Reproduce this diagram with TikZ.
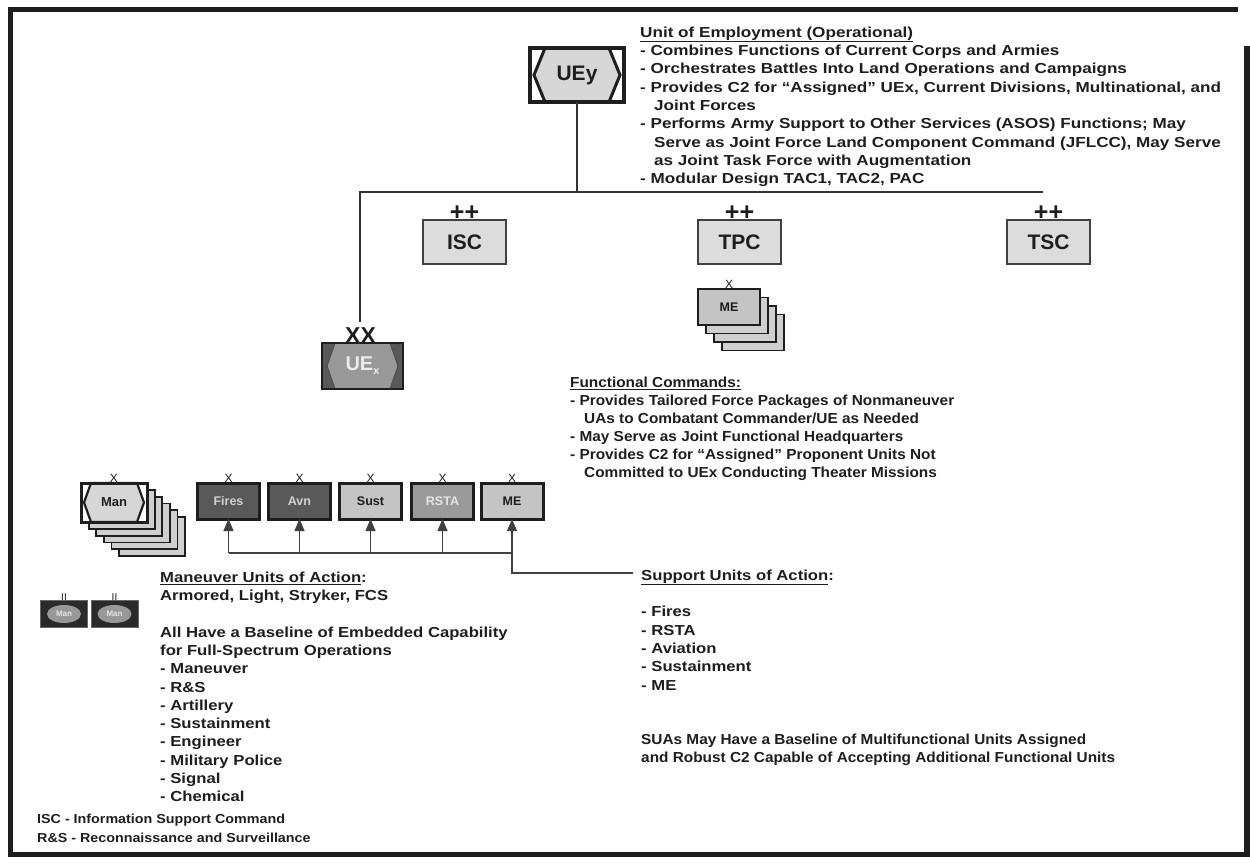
\documentclass[tikz,border=0pt]{standalone}
\usepackage{fontspec}
\setmainfont{Liberation Sans}
\newfontfamily\bodyfont{Liberation Sans}[FakeStretch=1.15]
\newfontfamily\widefont{Liberation Sans}[FakeStretch=1.18]
\newfontfamily\narrowfont{Liberation Sans}[FakeStretch=1.06]
\newfontfamily\footfont{Liberation Sans}[FakeStretch=1.1]
\usetikzlibrary{arrows.meta,calc,shapes.geometric}

\definecolor{ink}{HTML}{1E1E1E}
\definecolor{darkunit}{HTML}{595959}
\definecolor{midunit}{HTML}{9A9A9A}
\definecolor{lightunit}{HTML}{C4C4C4}
\definecolor{cmdfill}{HTML}{DCDCDC}
\definecolor{hexlight}{HTML}{D6D6D6}
\definecolor{hexdark}{HTML}{989898}
\definecolor{stackfill}{HTML}{CFCFCF}
\definecolor{iconfill}{HTML}{2A2A2A}

% hexagon inside a unit box: node name, corner inset, point inset, style
\newcommand\unithex[4]{%
  \path[#4] ($(#1.north west)+(#2,0)$) -- ($(#1.north east)+(-#2,0)$)
    -- ($(#1.east)+(-#3,0)$) -- ($(#1.south east)+(-#2,0)$)
    -- ($(#1.south west)+(#2,0)$) -- ($(#1.west)+(#3,0)$) -- cycle;}

\begin{document}
\begin{tikzpicture}[x=1pt,y=-1pt,
  body/.style={anchor=north west, inner sep=0pt, align=left, text=ink,
    font=\bodyfont\bfseries\fontsize{14.5}{18.3}\selectfont},
  foot/.style={anchor=north west, inner sep=0pt, align=left, text=ink,
    font=\footfont\bfseries\fontsize{13}{19}\selectfont},
  conn/.style={draw=black!80, line width=1.6pt},
  bus/.style={draw=black!75, line width=1.3pt},
  arr/.style={bus, -{Triangle[width=10pt,length=12pt]}},
  cmdbox/.style={draw=black!75, line width=1.3pt, fill=cmdfill,
    minimum width=83pt, minimum height=44pt, inner sep=0pt, outer sep=0pt,
    text=ink, font=\bfseries\fontsize{21}{21}\selectfont},
  echelon/.style={anchor=south, inner sep=0pt, text=ink,
    font=\bfseries\fontsize{25}{25}\selectfont},
  brigade/.style={anchor=south, inner sep=0.5pt, text=ink,
    font=\fontsize{12}{12}\selectfont},
  unitbox/.style={draw=ink, line width=3pt, minimum width=62pt,
    minimum height=36pt, inner sep=0pt, outer sep=0pt,
    font=\bfseries\fontsize{12.5}{12.5}\selectfont},
  stackbox/.style={draw=ink, line width=1.8pt, fill=stackfill,
    inner sep=0pt, outer sep=0pt},
  hexbox/.style={fill=white, inner sep=0pt, outer sep=0pt},
  hexborder/.style={draw=ink, line width=3.5pt},
  iconbox/.style={fill=iconfill, draw=black!60, line width=0.8pt,
    minimum width=47pt, minimum height=27pt, inner sep=0pt, outer sep=0pt},
  iconoval/.style={ellipse, fill=hexdark, minimum width=34pt,
    minimum height=18pt, inner sep=0pt, text=white!90!black,
    font=\bfseries\fontsize{8}{8}\selectfont}
]
\useasboundingbox (0,0) rectangle (1250,863);
\fill[white] (0,0) rectangle (1250,863);

% page frame
\draw[line width=5pt, draw=ink] (1238,9.5) -- (10.5,9.5) -- (10.5,854.5) -- (1250,854.5);
\draw[line width=6pt, draw=ink] (1246.5,46) -- (1246.5,857);

% ---------------- UEy ----------------
\node[hexbox, minimum width=94pt, minimum height=54pt] (uey) at (577,75) {};
\unithex{uey}{15}{4}{fill=hexlight, draw=ink, line width=3pt}
\draw[hexborder] (uey.north west) rectangle (uey.south east);
\node[inner sep=0pt, text=ink, font=\bfseries\fontsize{21}{21}\selectfont] (uey-t) at (uey) {UEy};

\node[body, font=\widefont\bfseries\fontsize{14.5}{18.3}\selectfont] (uey-text) at (640,26.5) {%
\underline{Unit of Employment (Operational)}\\
- Combines Functions of Current Corps and Armies\\
- Orchestrates Battles Into Land Operations and Campaigns\\
- Provides C2 for “Assigned” UEx, Current Divisions, Multinational, and\\
\hspace*{14pt}Joint Forces\\
- Performs Army Support to Other Services (ASOS) Functions; May\\
\hspace*{14pt}Serve as Joint Force Land Component Command (JFLCC), May Serve\\
\hspace*{14pt}as Joint Task Force with Augmentation\\
- Modular Design TAC1, TAC2, PAC};

% hierarchy lines
\coordinate (busL) at (360,192);
\coordinate (busR) at (1043,192);
\coordinate (uexTop) at (360,322);
\draw[conn] (uey.south) -- (uey.south |- busL);
\draw[conn] (uexTop) -- (busL) -- (busR);

% ---------------- theater commands ----------------
\node[cmdbox] (isc) at (464.5,242) {ISC};
\node[cmdbox] (tpc) at (739.5,242) {TPC};
\node[cmdbox] (tsc) at (1048.5,242) {TSC};
\node[echelon] (isc-e) at ($(isc.north)+(0,1)$) {++};
\node[echelon] (tpc-e) at ($(tpc.north)+(0,1)$) {++};
\node[echelon] (tsc-e) at ($(tsc.north)+(0,1)$) {++};

% ME stack under TPC
\foreach \k in {3,2,1}{
  \node[stackbox, minimum width=62pt, minimum height=36pt] (meb\k) at (729+8*\k,307+8.5*\k) {};
}
\node[unitbox, fill=lightunit, line width=2.5pt, text=ink] (tme) at (729,307) {ME};
\node[brigade] (tme-x) at (tme.north) {X};

% ---------------- UEx ----------------
\node[hexbox, fill=darkunit, minimum width=81pt, minimum height=46pt] (uex) at (362.5,366) {};
\unithex{uex}{13}{5}{fill=hexdark, draw=black!70, line width=1pt}
\draw[draw=ink, line width=2.5pt] (uex.north west) rectangle (uex.south east);
\node[inner sep=0pt, text=white!92!black, font=\bfseries\fontsize{20}{20}\selectfont] (uex-t) at (uex) {UE\raisebox{-4pt}{\fontsize{11}{11}\selectfont x}};
\node[echelon, font=\bfseries\fontsize{23}{23}\selectfont, inner sep=0pt] (uex-e) at ($(uex.north)+(-2,1)$) {XX};

\node[body, font=\narrowfont\bfseries\fontsize{14.5}{17.9}\selectfont] (fc-text) at (570,377) {%
\underline{Functional Commands:}\\
- Provides Tailored Force Packages of Nonmaneuver\\
\hspace*{14pt}UAs to Combatant Commander/UE as Needed\\
- May Serve as Joint Functional Headquarters\\
- Provides C2 for “Assigned” Proponent Units Not\\
\hspace*{14pt}Committed to UEx Conducting Theater Missions};

% ---------------- maneuver units of action ----------------
\foreach \k in {5,4,3,2,1}{
  \node[stackbox, minimum width=66pt, minimum height=39pt] (manb\k) at (114+7.6*\k,502.5+6.8*\k) {};
}
\node[hexbox, minimum width=66pt, minimum height=39pt] (man) at (114,502.5) {};
\unithex{man}{10}{3}{fill=hexlight, draw=ink, line width=2.2pt}
\draw[draw=ink, line width=3pt] (man.north west) rectangle (man.south east);
\node[inner sep=0pt, text=ink, font=\bfseries\fontsize{13}{13}\selectfont] (man-t) at (man) {Man};
\node[brigade] (man-x) at (man.north) {X};

% ---------------- support units of action ----------------
\node[unitbox, fill=darkunit, text=white!82!black] (fires) at (228.5,501) {Fires};
\node[unitbox, fill=darkunit, text=white!82!black] (avn) at (299.5,501) {Avn};
\node[unitbox, fill=lightunit, text=ink] (sust) at (370.5,501) {Sust};
\node[unitbox, fill=midunit, text=white!90!black] (rsta) at (442.5,501) {RSTA};
\node[unitbox, fill=lightunit, text=ink] (sme) at (512,501) {ME};
\foreach \u in {fires,avn,sust,rsta,sme}{
  \node[brigade] (\u-x) at (\u.north) {X};
}

\coordinate (busW) at (228.5,553);
\coordinate (busE) at (512,553);
\coordinate (busTurn) at (512,573);
\draw[bus] (busW) -- (busE);
\draw[arr] (busW) -- (fires.south);
\draw[arr] (avn.south |- busW) -- (avn.south);
\draw[arr] (sust.south |- busW) -- (sust.south);
\draw[arr] (rsta.south |- busW) -- (rsta.south);

\node[body] (sua-text) at (641,569.5) {%
\underline{Support Units of Action}:\\[18.3pt]
- Fires\\
- RSTA\\
- Aviation\\
- Sustainment\\
- ME};
\node[body, font=\narrowfont\bfseries\fontsize{14.5}{18.3}\selectfont] (sua-note) at (641,733.5) {%
SUAs May Have a Baseline of Multifunctional Units Assigned\\
and Robust C2 Capable of Accepting Additional Functional Units};
\coordinate (suaEnd) at (633,573);
\draw[arr] (suaEnd) -- (busTurn) -- (sme.south);

% maneuver battalion icons
\node[iconbox] (icon1) at (64,614) {};
\node[iconbox] (icon2) at (114.5,614) {};
\node[iconoval] (icon1-o) at (icon1) {Man};
\node[iconoval] (icon2-o) at (icon2) {Man};
\node[brigade, font=\fontsize{10}{10}\selectfont, inner sep=0pt] (icon1-e) at (icon1.north) {II};
\node[brigade, font=\fontsize{10}{10}\selectfont, inner sep=0pt] (icon2-e) at (icon2.north) {II};

\node[body] (mua-text) at (160,571.5) {%
\underline{Maneuver Units of Action}:\\
Armored, Light, Stryker, FCS\\[18.3pt]
All Have a Baseline of Embedded Capability\\
for Full-Spectrum Operations\\
- Maneuver\\
- R\&S\\
- Artillery\\
- Sustainment\\
- Engineer\\
- Military Police\\
- Signal\\
- Chemical};

% abbreviations
\node[foot] (abbr) at (37,813.5) {%
ISC - Information Support Command\\
R\&S - Reconnaissance and Surveillance};
\end{tikzpicture}
\end{document}
